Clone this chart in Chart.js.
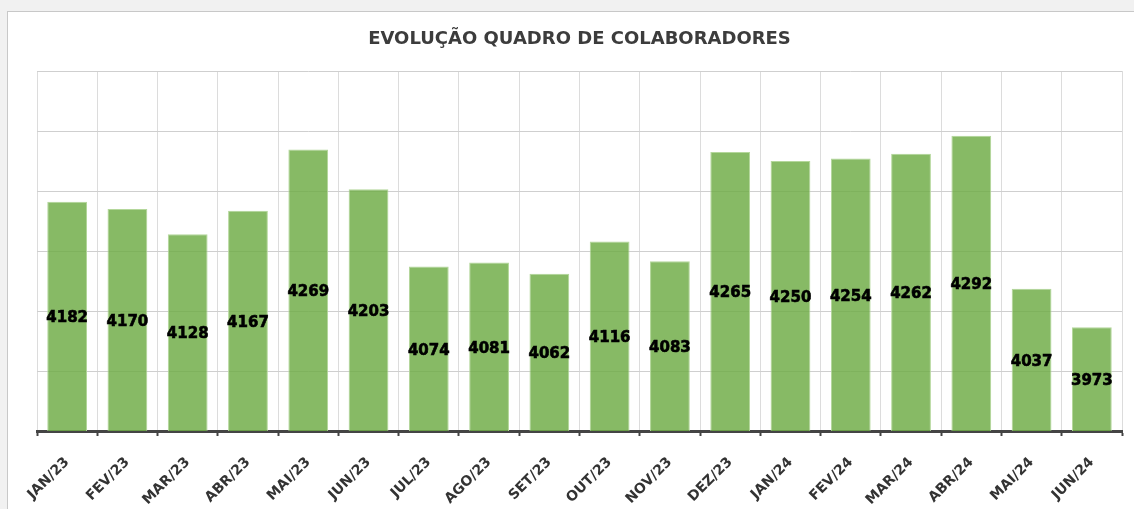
<!DOCTYPE html>
<html>
<head>
<meta charset="utf-8">
<script src="https://cdn.jsdelivr.net/npm/chart.js@4.4.1/dist/chart.umd.min.js"></script>
<style>
  html, body { margin:0; padding:0; background:#f1f1f1; width:1134px; height:509px; overflow:hidden; }
  #card { position:absolute; left:7px; top:11px; width:1140px; height:520px; background:#fff; border:1px solid #c8c8c8; }
  #wrap { position:absolute; left:0; top:0; width:1134px; height:509px; }
</style>
</head>
<body>
<div id="card"></div>
<div id="wrap"><canvas id="c" width="1134" height="509"></canvas></div>
<script>
const categories = ["JAN/23","FEV/23","MAR/23","ABR/23","MAI/23","JUN/23","JUL/23","AGO/23","SET/23","OUT/23","NOV/23","DEZ/23","JAN/24","FEV/24","MAR/24","ABR/24","MAI/24","JUN/24"];
const headcount = [4182,4170,4128,4167,4269,4203,4074,4081,4062,4116,4083,4265,4250,4254,4262,4292,4037,3973];
const titleText = "EVOLUÇÃO QUADRO DE COLABORADORES";

const valueLabels = {
  id: 'valueLabels',
  afterDraw(chart) {
    const ctx = chart.ctx;
    const xs = chart.scales.x, ys = chart.scales.y;
    const values = chart.data.datasets[0].data;
    ctx.save();
    ctx.font = 'bold 15px "DejaVu Sans"';
    ctx.fillStyle = '#000000';
    ctx.strokeStyle = '#000000';
    ctx.lineWidth = 0.6;
    ctx.textAlign = 'center';
    ctx.textBaseline = 'middle';
    values.forEach((v, i) => {
      const x = xs.getPixelForValue(i);
      const top = ys.getPixelForValue(v);
      const base = ys.getPixelForValue(ys.min);
      const y = (top + base) / 2 + 2;
      ctx.fillText(String(v), x, y);
      ctx.strokeText(String(v), x, y);
    });
    ctx.restore();
  }
};

new Chart(document.getElementById('c'), {
  type: 'bar',
  data: {
    labels: categories,
    datasets: [{
      data: headcount,
      backgroundColor: 'rgba(112,173,71,0.84)',
      borderColor: 'rgba(180,215,155,1)',
      borderWidth: 1,
      categoryPercentage: 1,
      barPercentage: 0.66
    }]
  },
  options: {
    responsive: false,
    animation: false,
    layout: { padding: { left: 37, right: 12, top: 0, bottom: 0 } },
    plugins: {
      legend: { display: false },
      tooltip: { enabled: false },
      title: {
        display: true,
        text: titleText,
        color: '#3c3c3c',
        font: { family: 'DejaVu Sans', size: 18, weight: 'bold', lineHeight: 1.2 },
        padding: { top: 29, bottom: 20.4 }
      }
    },
    scales: {
      x: {
        offset: true,
        grid: { offset: true, color: '#dcdcdc', tickColor: '#444', tickLength: 5, tickWidth: 2, lineWidth: 1 },
        border: { color: '#444', width: 3 },
        ticks: {
          color: '#333',
          padding: 18,
          font: { family: 'DejaVu Sans', size: 14, weight: 'bold' },
          minRotation: 45, maxRotation: 45, autoSkip: false
        },
        afterFit(scale) { scale.height = 78; }
      },
      y: {
        min: 3800, max: 4400,
        ticks: { stepSize: 100, display: false },
        grid: { color: '#cfcfcf', drawTicks: false },
        border: { display: false }
      }
    }
  },
  plugins: [valueLabels]
});
</script>
</body>
</html>
